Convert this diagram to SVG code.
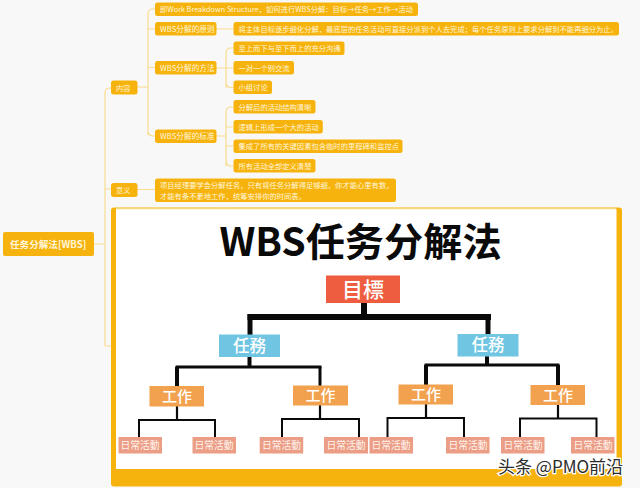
<svg xmlns="http://www.w3.org/2000/svg" width="640" height="488" viewBox="0 0 640 488">
<style>
text{font-family:"Noto Sans CJK SC","Noto Sans",sans-serif;fill:#fff}
.n rect{fill:#f7b30d}
.n text{font-size:7.3px;fill:#fff6dc}
.n text.b{font-size:7.700px}
.c path{fill:none;stroke:#f9dc8e;stroke-width:1.2}
.k path{fill:none;stroke:#0a0a0a}
.t rect{fill:#70c6e2}.w rect{fill:#f2a24e}.d rect{fill:#eb9d85}.g rect{fill:#ee5d3f}
.t text{font-size:16.500px;text-anchor:middle;font-weight:500}
.w text{font-size:15px;text-anchor:middle;font-weight:500}
.d text{font-size:9.800px;text-anchor:middle;fill:#fff2ec}
</style>
<rect width="640" height="488" fill="#f8f8f9"/>
<g id="connectors" class="c">
<path d="M94 244H105M105 346V93Q105 88 110 88H111M105 189H111M105 346H111"/>
<path d="M137 87H148M148 135V14Q148 9 153 9H155M148 29H155M148 67.500H155M148 130Q148 136 153 136H155M137 189.500H155"/>
<path d="M216 29H233M216 68H233M226 87.500V53Q226 48 231 48H233M226 82Q226 87.500 231 87.500H233"/>
<path d="M216 136H226M226 166V112Q226 107 231 107H233M226 127H233M226 146H233M226 160Q226 166 231 166H233"/>
</g>
<g id="root" class="n"><rect x="3" y="232" width="91" height="24" rx="2"/><text x="10" y="248" style="font-size:9.600px;font-weight:700">任务分解法[WBS]</text></g>
<g id="n-content" class="n"><rect x="111" y="80.500" width="26.500" height="14" rx="2.500"/><text x="116" y="90.500">内容</text></g>
<g id="n-meaning" class="n"><rect x="111" y="183" width="26.500" height="14" rx="2.500"/><text x="116" y="193">意义</text></g>
<g id="n1" class="n"><rect x="155" y="2.500" width="263" height="13.500" rx="2.500"/><text x="160" y="12">即Work Breakdown Structure，如何进行WBS分解：目标→任务→工作→活动</text></g>
<g id="n2" class="n"><rect x="155" y="22" width="61.500" height="13.500" rx="2.500"/><text class="b" x="160" y="31.500">WBS分解的原则</text></g>
<g id="n21" class="n"><rect x="233.500" y="22" width="385.500" height="13.500" rx="2.500"/><text x="238.500" y="31.500">将主体目标逐步细化分解，最底层的任务活动可直接分派到个人去完成；每个任务原则上要求分解到不能再细分为止。</text></g>
<g id="n3" class="n"><rect x="155" y="61" width="61.500" height="13.500" rx="2.500"/><text class="b" x="160" y="70.500">WBS分解的方法</text></g>
<g id="n31" class="n"><rect x="233.500" y="41.500" width="111" height="13.500" rx="2.500"/><text x="238.500" y="51">至上而下与至下而上的充分沟通</text></g>
<g id="n32" class="n"><rect x="233.500" y="61" width="60.500" height="13.500" rx="2.500"/><text x="238.500" y="70.500">一对一个别交流</text></g>
<g id="n33" class="n"><rect x="233.500" y="80.500" width="38.500" height="13.500" rx="2.500"/><text x="238.500" y="90">小组讨论</text></g>
<g id="n4" class="n"><rect x="155" y="129.500" width="61.500" height="13.500" rx="2.500"/><text class="b" x="160" y="139">WBS分解的标准</text></g>
<g id="n41" class="n"><rect x="233.500" y="100" width="82" height="13.500" rx="2.500"/><text x="238.500" y="109.500">分解后的活动结构清晰</text></g>
<g id="n42" class="n"><rect x="233.500" y="120" width="89.300" height="13.500" rx="2.500"/><text x="238.500" y="129.500">逻辑上形成一个大的活动</text></g>
<g id="n43" class="n"><rect x="233.500" y="139.500" width="169" height="13.500" rx="2.500"/><text x="238.500" y="149">集成了所有的关键因素包含临时的里程碑和监控点</text></g>
<g id="n44" class="n"><rect x="233.500" y="159" width="82" height="13.500" rx="2.500"/><text x="238.500" y="168.500">所有活动全部定义清楚</text></g>
<g id="n5" class="n"><rect x="155" y="178.500" width="241" height="23.500" rx="2.500"/><text x="160" y="188"><tspan x="160">项目经理要学会分解任务，只有将任务分解得足够细，你才能心里有数，</tspan><tspan x="160" dy="10.500">才能有条不紊地工作，统筹安排你的时间表。</tspan></text></g>
<g id="picture">
<rect x="111" y="207.500" width="511" height="279" rx="3" fill="#f7b30d"/>
<rect x="116" y="209" width="500.500" height="260" fill="#fff"/>
<path d="M116 208.500H616" stroke="#f5d978" stroke-width="1.500"/>
<text x="360.500" y="255.500" text-anchor="middle" style="font-size:39.200px;font-weight:700;fill:#0a0a0a">WBS任务分解法</text>
<g class="k">
<path d="M364 303V316M247.500 317H491" stroke-width="6"/>
<path d="M250 314V335M488 314V335" stroke-width="5"/>
<path d="M249.500 357V368M487 356V366" stroke-width="4"/>
<path d="M175.500 367H321.500M424.500 365H559.500" stroke-width="3"/>
<path d="M177 367V387M426 365V385M558 365V385" stroke-width="4"/>
<path d="M320 367V386" stroke-width="3"/>
<path d="M177 406V419M320 405V419M426 404V418M558 405V418" stroke-width="2.200"/>
<path d="M139 437V420H215V437M282 437V419H359V437M387.500 437V418H464V437M520 437V418.500H596.500V437" stroke-width="2"/>
</g>
<g id="goal" class="g"><rect x="326" y="275.500" width="74" height="27.500"/><text x="363" y="297" text-anchor="middle" style="font-size:21px;font-weight:500">目標</text></g>
<g id="task1" class="t"><rect x="219" y="334.500" width="61" height="22.500"/><text x="249.500" y="351.500">任務</text></g>
<g id="task2" class="t"><rect x="457.500" y="334" width="61" height="22.500"/><text x="488" y="351">任務</text></g>
<g id="work1" class="w"><rect x="149.500" y="386" width="54.500" height="20.500"/><text x="177" y="401.500">工作</text></g>
<g id="work2" class="w"><rect x="293" y="385.500" width="55" height="20"/><text x="320.500" y="401">工作</text></g>
<g id="work3" class="w"><rect x="398.500" y="384.500" width="54.500" height="20"/><text x="426" y="400">工作</text></g>
<g id="work4" class="w"><rect x="530.500" y="385" width="54.500" height="20"/><text x="558" y="400.500">工作</text></g>
<g id="d1" class="d"><rect x="118.500" y="437" width="43.500" height="16.500"/><text x="140" y="448.700">日常活動</text></g>
<g id="d2" class="d"><rect x="192.500" y="437" width="43.500" height="16.500"/><text x="214" y="448.700">日常活動</text></g>
<g id="d3" class="d"><rect x="259.700" y="437" width="43.500" height="16.500"/><text x="281.500" y="448.700">日常活動</text></g>
<g id="d4" class="d"><rect x="324" y="437" width="44" height="16.500"/><text x="346" y="448.700">日常活動</text></g>
<g id="d5" class="d"><rect x="369.500" y="437" width="43.500" height="16.500"/><text x="391" y="448.700">日常活動</text></g>
<g id="d6" class="d"><rect x="446" y="437" width="43.500" height="16.500"/><text x="468" y="448.700">日常活動</text></g>
<g id="d7" class="d"><rect x="501" y="437" width="43.500" height="16.500"/><text x="523" y="448.700">日常活動</text></g>
<g id="d8" class="d"><rect x="571" y="437" width="43.500" height="16.500"/><text x="593" y="448.700">日常活動</text></g>
</g>
<text x="498" y="472.500" style="font-size:17px;fill:#2b2b2b;stroke:#fff;stroke-width:2.500px;paint-order:stroke">头条 @PMO前沿</text>
</svg>
